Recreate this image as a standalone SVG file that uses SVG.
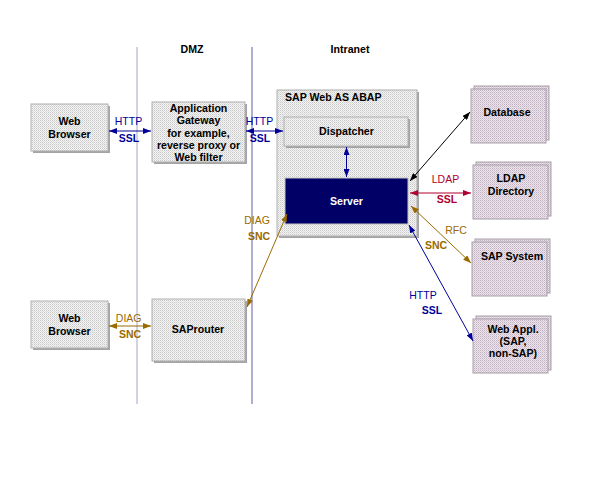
<svg xmlns="http://www.w3.org/2000/svg" width="598" height="479" viewBox="0 0 598 479">
<defs>
<pattern id="dots" width="2" height="2" patternUnits="userSpaceOnUse"><rect width="2" height="2" fill="#f4f4f4"/><rect width="1" height="1" fill="#c8c8c8"/><rect x="1" y="1" width="1" height="1" fill="#dcdcdc"/></pattern>
<pattern id="pdots" width="2" height="2" patternUnits="userSpaceOnUse"><rect width="2" height="2" fill="#eee6ee"/><rect width="1" height="1" fill="#c0b0c0"/><rect x="1" y="1" width="1" height="1" fill="#d4c8d4"/></pattern>
<marker id="mb" viewBox="0 0 8 6" refX="8" refY="3" markerWidth="8" markerHeight="6" markerUnits="userSpaceOnUse" orient="auto-start-reverse"><path d="M0,0 L8,3 L0,6 z" fill="#000099"/></marker>
<marker id="mk" viewBox="0 0 8 6" refX="8" refY="3" markerWidth="8" markerHeight="6" markerUnits="userSpaceOnUse" orient="auto-start-reverse"><path d="M0,0 L8,3 L0,6 z" fill="#000000"/></marker>
<marker id="mr" viewBox="0 0 8 6" refX="8" refY="3" markerWidth="8" markerHeight="6" markerUnits="userSpaceOnUse" orient="auto-start-reverse"><path d="M0,0 L8,3 L0,6 z" fill="#b00030"/></marker>
<marker id="mo" viewBox="0 0 8 6" refX="8" refY="3" markerWidth="8" markerHeight="6" markerUnits="userSpaceOnUse" orient="auto-start-reverse"><path d="M0,0 L8,3 L0,6 z" fill="#9a6a00"/></marker>
</defs>
<style>
.box{fill:url(#dots);stroke:#b0b0b0;stroke-width:1}
.pbox{fill:url(#pdots);stroke:#a8a0a8;stroke-width:1}
.sh{fill:#a4a4a4}
.t{font-family:"Liberation Sans",Arial,sans-serif;font-weight:bold;font-size:10.6px;text-anchor:middle;fill:#000}
.l{font-family:"Liberation Sans",Arial,sans-serif;font-size:10.5px;text-anchor:middle}
.b{font-weight:bold}
.blue{fill:#000099}
.red{fill:#b00030}
.brn{fill:#9a6a00}
.cb{stroke:#000099;stroke-width:1;fill:none;marker-start:url(#mb);marker-end:url(#mb)}
.ck{stroke:#000000;stroke-width:1;fill:none;marker-start:url(#mk);marker-end:url(#mk)}
.cr{stroke:#b00030;stroke-width:1;fill:none;marker-start:url(#mr);marker-end:url(#mr)}
.co{stroke:#9a6a00;stroke-width:1;fill:none;marker-start:url(#mo);marker-end:url(#mo)}
</style>
<rect width="598" height="479" fill="#ffffff"/>
<g id="zones">
<line x1="137" y1="47" x2="137" y2="404" stroke="#b4b4d4" stroke-width="1.2"/>
<line x1="252" y1="47" x2="252" y2="404" stroke="#7878bc" stroke-width="1.2"/>
<text class="t" x="192" y="53">DMZ</text>
<text class="t" x="350" y="53">Intranet</text>
</g>
<g id="webbrowser1">
<rect class="sh" x="33" y="106" width="77" height="47"/>
<rect class="box" x="31" y="104" width="77" height="47"/>
<text class="t" x="69.5" y="125">Web</text>
<text class="t" x="69.5" y="138">Browser</text>
</g>
<g id="gateway">
<rect class="sh" x="154" y="104" width="93" height="60"/>
<rect class="box" x="152" y="102" width="93" height="60"/>
<text class="t" x="198.5" y="111.5">Application</text>
<text class="t" x="198.5" y="124">Gateway</text>
<text class="t" x="198.5" y="136.5">for example,</text>
<text class="t" x="198.5" y="149">reverse proxy or</text>
<text class="t" x="198.5" y="160.5">Web filter</text>
</g>
<g id="sapwebas">
<rect class="sh" x="279" y="92" width="140" height="146"/>
<rect class="box" x="277" y="90" width="140" height="146"/>
<text class="t" x="285" y="101" style="text-anchor:start">SAP Web AS ABAP</text>
</g>
<g id="dispatcher">
<rect class="sh" x="286" y="119" width="124" height="29"/>
<rect class="box" x="284" y="117" width="124" height="29"/>
<text class="t" x="346.5" y="135">Dispatcher</text>
</g>
<g id="server">
<rect x="285" y="178" width="123" height="46" fill="#000066" stroke="#c4c4c4" stroke-width="1"/>
<text class="t" x="346.5" y="205" fill="#ffffff" style="fill:#ffffff">Server</text>
</g>
<g id="database">
<rect class="pbox" x="474" y="86" width="75" height="54"/>
<rect class="pbox" x="471" y="89" width="75" height="54"/>
<text class="t" x="507" y="116">Database</text>
</g>
<g id="ldap">
<rect class="pbox" x="476" y="162" width="75" height="54"/>
<rect class="pbox" x="473" y="165" width="75" height="54"/>
<text class="t" x="511" y="181.5">LDAP</text>
<text class="t" x="511" y="194.5">Directory</text>
</g>
<g id="sapsystem">
<rect class="pbox" x="475" y="239" width="75" height="54"/>
<rect class="pbox" x="472" y="242" width="75" height="54"/>
<text class="t" x="512" y="259.5">SAP System</text>
</g>
<g id="webappl">
<rect class="pbox" x="476" y="316" width="75" height="54"/>
<rect class="pbox" x="473" y="319" width="75" height="54"/>
<text class="t" x="513" y="332.5">Web Appl.</text>
<text class="t" x="513" y="344.5">(SAP,</text>
<text class="t" x="513" y="356.5">non-SAP)</text>
</g>
<g id="webbrowser2">
<rect class="sh" x="33" y="303" width="77" height="47"/>
<rect class="box" x="31" y="301" width="77" height="47"/>
<text class="t" x="69.5" y="322">Web</text>
<text class="t" x="69.5" y="334.5">Browser</text>
</g>
<g id="saprouter">
<rect class="sh" x="154" y="301" width="93" height="62"/>
<rect class="box" x="152" y="299" width="93" height="62"/>
<text class="t" x="198" y="333">SAProuter</text>
</g>
<g id="connectors">
<line class="cb" x1="109" y1="131" x2="151" y2="131"/>
<line class="cb" x1="246" y1="131" x2="283" y2="131"/>
<line class="cb" x1="346.5" y1="147" x2="346.5" y2="177"/>
<line class="ck" x1="410" y1="181" x2="470" y2="112"/>
<line class="cr" x1="410" y1="193" x2="471" y2="193"/>
<line class="co" x1="411" y1="206" x2="471" y2="263"/>
<line class="cb" x1="409" y1="225" x2="473" y2="341"/>
<line class="co" x1="247" y1="307" x2="287" y2="214"/>
<line class="co" x1="109" y1="326" x2="151" y2="326"/>
<text class="l blue" x="128.5" y="125">HTTP</text>
<text class="l blue b" x="129" y="142">SSL</text>
<text class="l blue" x="259.5" y="125">HTTP</text>
<text class="l blue b" x="260" y="142">SSL</text>
<text class="l red" x="445.5" y="183">LDAP</text>
<text class="l red b" x="447" y="203">SSL</text>
<text class="l brn" x="456" y="234">RFC</text>
<text class="l brn b" x="436" y="249">SNC</text>
<text class="l blue" x="423" y="299">HTTP</text>
<text class="l blue b" x="432" y="314">SSL</text>
<text class="l brn" x="257" y="224">DIAG</text>
<text class="l brn b" x="259" y="240">SNC</text>
<text class="l brn" x="128.7" y="322">DIAG</text>
<text class="l brn b" x="130" y="337.5">SNC</text>
</g>
</svg>
